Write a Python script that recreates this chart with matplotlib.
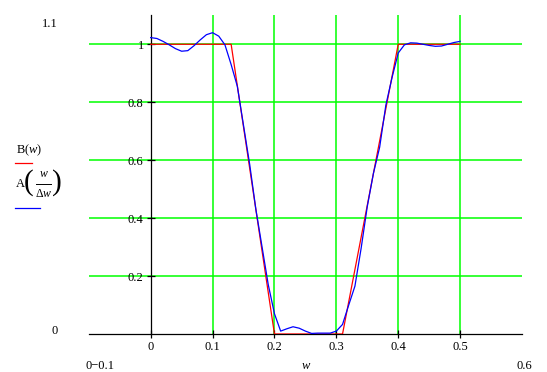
import numpy as np
import matplotlib
matplotlib.use("Agg")
import matplotlib.pyplot as plt
from matplotlib.lines import Line2D

plt.rcParams['font.family'] = ['Liberation Serif', 'DejaVu Serif']
plt.rcParams['mathtext.fontset'] = 'custom'
plt.rcParams['mathtext.rm'] = 'Liberation Serif'
plt.rcParams['mathtext.it'] = 'Liberation Serif:italic'
plt.rcParams['font.size'] = 9

W_PX, H_PX = 547, 372

# ideal response B(w)
w_ideal = [0.0, 0.13, 0.20, 0.31, 0.40, 0.50]
b_ideal = [1.0, 1.0, 0.0, 0.0, 1.0, 1.0]

# approximation A(w/dw)
w_approx = [0.00, 0.01, 0.02, 0.03, 0.04, 0.05, 0.06, 0.07, 0.08, 0.09,
            0.10, 0.11, 0.12, 0.13, 0.14, 0.15, 0.16, 0.17, 0.18, 0.19,
            0.20, 0.21, 0.22, 0.23, 0.24, 0.25, 0.26, 0.27, 0.28, 0.29,
            0.30, 0.31, 0.32, 0.33, 0.34, 0.35, 0.36, 0.37, 0.38, 0.39,
            0.40, 0.41, 0.42, 0.43, 0.44, 0.45, 0.46, 0.47, 0.48, 0.49, 0.50]
a_approx = [1.023, 1.020, 1.010, 0.998, 0.985, 0.976, 0.978, 0.995, 1.015, 1.033,
            1.040, 1.028, 0.998, 0.930, 0.855, 0.720, 0.585, 0.430, 0.300, 0.170,
            0.070, 0.010, 0.018, 0.025, 0.020, 0.010, 0.002, 0.003, 0.003, 0.003,
            0.010, 0.033, 0.100, 0.165, 0.295, 0.440, 0.555, 0.645, 0.790, 0.885,
            0.970, 0.998, 1.005, 1.004, 1.000, 0.996, 0.993, 0.994, 1.000, 1.006, 1.010]

x_ticks = [0, 0.1, 0.2, 0.3, 0.4, 0.5]
x_labels = ["0", "0.1", "0.2", "0.3", "0.4", "0.5"]
y_ticks = [0.2, 0.4, 0.6, 0.8, 1.0]
y_labels = ["0.2", "0.4", "0.6", "0.8", "1"]

fig = plt.figure(figsize=(W_PX / 100, H_PX / 100), dpi=100)
left, right, top, bottom = 88.8, 522.0, 15.3, 334.0
ax = fig.add_axes([left / W_PX, 1 - bottom / H_PX, (right - left) / W_PX, (bottom - top) / H_PX])

# green grid, not at the axis itself
for xv in x_ticks[1:]:
    ax.axvline(xv, color='#00ff00', lw=1.1, zorder=1)
for yv in y_ticks:
    ax.axhline(yv, color='#00ff00', lw=1.1, zorder=1)

ax.plot(w_ideal, b_ideal, color='#ff0000', lw=0.9, zorder=3)
ax.plot(w_approx, a_approx, color='#0000ff', lw=0.9, zorder=4)

ax.set_xlim(-0.1, 0.6)
ax.set_ylim(0, 1.1)
ax.set_xticks(x_ticks)
ax.set_xticklabels(x_labels)
ax.set_yticks(y_ticks)
ax.set_yticklabels(y_labels)

for s in ['top', 'right']:
    ax.spines[s].set_visible(False)
ax.spines['left'].set_position(('data', 0))
ax.spines['left'].set_linewidth(0.9)
ax.spines['bottom'].set_linewidth(0.9)
ax.spines['left'].set_zorder(2.6)
ax.spines['bottom'].set_zorder(2.6)
ax.tick_params(direction='inout', length=6, width=0.9, color='black', pad=2, labelsize=9)


def ftext(px, py, s, **kw):
    fig.text(px / W_PX, 1 - py / H_PX, s, **kw)


def fline(x0, x1, py, color, lw=0.9):
    fig.add_artist(Line2D([x0 / W_PX, x1 / W_PX], [1 - py / H_PX] * 2,
                          transform=fig.transFigure, color=color, lw=lw))


# limit labels, Mathcad style
ftext(58, 24, "1.1", ha='right', va='center')
ftext(58, 331, "0", ha='right', va='center')
ftext(86, 366, "0\u22120.1", ha='left', va='center')
ftext(532, 366, "0.6", ha='right', va='center')
ftext(306, 366, "$w$", ha='center', va='center')

# y-axis trace labels
ftext(16, 150, r"$\mathrm{B}(w)$", ha='left', va='center')
fline(15, 32, 163.5, '#ff0000')

ftext(16, 184, "A", ha='left', va='center')
ftext(24, 183, "(", ha='left', va='center', fontsize=21)
ftext(43.5, 174, "$w$", ha='center', va='center', fontsize=8.5)
fline(36, 51, 184, 'black', lw=0.7)
ftext(43.5, 194, r"$\Delta w$", ha='center', va='center', fontsize=8.5)
ftext(62, 183, ")", ha='right', va='center', fontsize=21)
fline(15, 39.5, 208.5, '#0000ff')

fig.savefig("out.png", dpi=100)
